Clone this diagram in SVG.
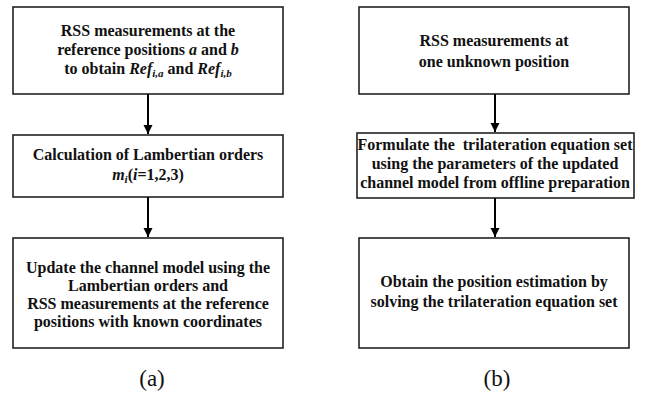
<svg xmlns="http://www.w3.org/2000/svg" width="650" height="393" viewBox="0 0 650 393">
<defs>
<marker id="ah" markerWidth="10" markerHeight="10" refX="9" refY="5" orient="auto" markerUnits="userSpaceOnUse">
<path d="M0,0.5 L9,5 L0,9.5 Z" fill="#000"/>
</marker>
<style>
.box{fill:#fff;stroke:#222;stroke-width:1.6}
.t{font-family:"Liberation Serif","Times New Roman",serif;font-weight:bold;font-size:16px;fill:#111;text-anchor:middle}
.cap{font-family:"Liberation Serif","Times New Roman",serif;font-size:23px;fill:#111;text-anchor:middle}
.conn line{stroke:#000;stroke-width:2}
</style>
</defs>
<rect width="650" height="393" fill="#fff"/>
<g id="a1">
<rect class="box" x="13" y="7" width="270" height="87"/>
<text class="t" x="148" y="36">RSS measurements at the</text>
<text class="t" x="148" y="55">reference positions <tspan font-style="italic">a</tspan> and <tspan font-style="italic">b</tspan></text>
<text class="t" x="148" y="74">to obtain <tspan font-style="italic">Ref</tspan><tspan font-style="italic" font-size="11" dy="3">i,a</tspan><tspan dy="-3"> and </tspan><tspan font-style="italic">Ref</tspan><tspan font-style="italic" font-size="11" dy="3">i,b</tspan></text>
</g>
<g id="a2">
<rect class="box" x="13" y="135" width="270" height="62"/>
<text class="t" x="148" y="160">Calculation of Lambertian orders</text>
<text class="t" x="148" y="180"><tspan font-style="italic">m</tspan><tspan font-style="italic" font-size="11" dy="3">i</tspan><tspan dy="-3">(</tspan><tspan font-style="italic">i</tspan>=1,2,3)</text>
</g>
<g id="a3">
<rect class="box" x="13" y="238" width="270" height="110"/>
<text class="t" x="148" y="273">Update the channel model using the</text>
<text class="t" x="148" y="291">Lambertian orders and</text>
<text class="t" x="148" y="309">RSS measurements at the reference</text>
<text class="t" x="148" y="327">positions with known coordinates</text>
</g>
<g id="b1">
<rect class="box" x="359" y="7" width="270" height="87"/>
<text class="t" x="494" y="46">RSS measurements at</text>
<text class="t" x="494" y="67">one unknown position</text>
</g>
<g id="b2">
<rect class="box" x="357" y="133" width="277" height="65"/>
<text class="t" x="495" y="150" xml:space="preserve">Formulate the  trilateration equation set</text>
<text class="t" x="495" y="169">using the parameters of the updated</text>
<text class="t" x="495" y="188">channel model from offline preparation</text>
</g>
<g id="b3">
<rect class="box" x="359" y="238" width="270" height="110"/>
<text class="t" x="494" y="287">Obtain the position estimation by</text>
<text class="t" x="494" y="307">solving the trilateration equation set</text>
</g>
<g id="connectors" class="conn">
<line x1="148" y1="94" x2="148" y2="134" marker-end="url(#ah)"/>
<line x1="148" y1="197" x2="148" y2="237" marker-end="url(#ah)"/>
<line x1="495" y1="94" x2="495" y2="132" marker-end="url(#ah)"/>
<line x1="495" y1="198" x2="495" y2="237" marker-end="url(#ah)"/>
</g>
<text class="cap" x="152" y="386">(a)</text>
<text class="cap" x="497" y="386">(b)</text>
</svg>
